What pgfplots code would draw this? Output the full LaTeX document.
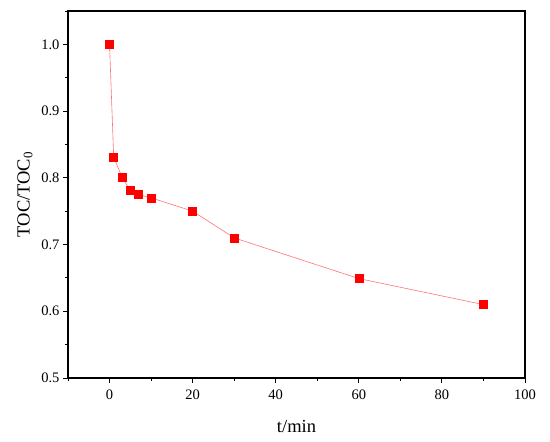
\documentclass[border=0pt]{standalone}
\usepackage{fontspec}
\setmainfont{Liberation Serif}
\usepackage{pgfplots}
\pgfplotsset{compat=1.18}
\begin{document}
\begin{tikzpicture}
\path (-68pt,-64pt) rectangle (482pt,378pt);
\begin{axis}[
  at={(0pt,0pt)}, anchor=south west,
  scale only axis, width=457pt, height=367pt,
  xmin=-10, xmax=100, ymin=0.5, ymax=1.05,
  xtick={0,20,40,60,80,100},
  ytick={0.5,0.6,0.7,0.8,0.9,1.0},
  minor xtick={-10,10,30,50,70,90},
  minor ytick={0.55,0.65,0.75,0.85,0.95,1.05},
  yticklabel style={/pgf/number format/.cd,fixed,fixed zerofill,precision=1},
  /pgf/number format/assume math mode=true,
  tick align=outside,
  xtick pos=bottom, ytick pos=left,
  major tick length=5pt, minor tick length=3pt,
  every tick/.style={black, line width=0.9pt},
  axis line style={line width=1.2pt},
  ticklabel style={font=\fontsize{14.5}{16}\selectfont},
  xticklabel style={yshift=-3pt},
  label style={font=\fontsize{18.5}{20}\selectfont},
  xlabel={t/min},
  ylabel={TOC/TOC\textsubscript{0}},
  xlabel style={yshift=-14pt},
  ylabel style={yshift=2pt},
]
\addplot[color=red!55, line width=0.6pt, mark=square*, mark size=4pt,
  mark options={draw=red, fill=red, solid}] coordinates {
(0,1.0) (1,0.831) (3,0.801) (5,0.781) (7,0.775) (10,0.770)
(20,0.750) (30,0.710) (60,0.649) (90,0.610)
};
\end{axis}
\end{tikzpicture}
\end{document}
